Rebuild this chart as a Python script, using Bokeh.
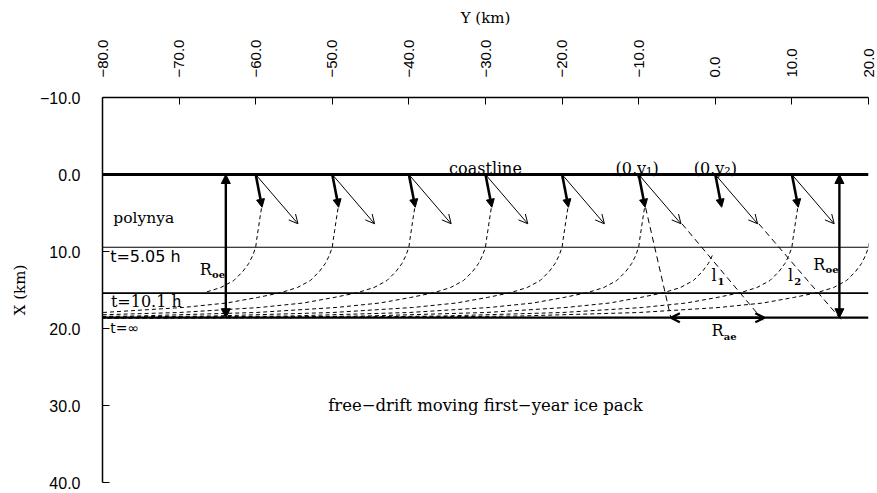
from bokeh.plotting import figure
from bokeh.models import Range1d, Arrow, NormalHead, OpenHead, ColumnDataSource, FixedTicker, Span
from bokeh.embed import file_html
from bokeh.resources import INLINE
from bokeh.core.properties import value

# ---------------- data (km) ----------------
# horizontal axis: Y (km), drawn on top; vertical axis: X (km), increasing downwards
y_ticks = [-80, -70, -60, -50, -40, -30, -20, -10, 0, 10, 20]
y_tick_labels = ["\u221280.0", "\u221270.0", "\u221260.0", "\u221250.0", "\u221240.0",
                 "\u221230.0", "\u221220.0", "\u221210.0", "0.0", "10.0", "20.0"]
x_ticks = [-10, 0, 10, 20, 30, 40]
x_tick_labels = ["\u221210.0", "0.0", "10.0", "20.0", "30.0", "40.0"]

coastline_x = 0.0
time_lines_x = [9.45, 15.4, 18.6]          # t=5.05 h, t=10.1 h, t=inf
time_lines_w = [1.2, 1.6, 2.2]

# points on the coast where the frazil ice starts
arrow_starts = [-60, -50, -40, -30, -20, -10, 0, 10]
ice_drift_dy, ice_drift_dx = 0.83, 4.25    # thick arrows (ice drift)
wind_dy, wind_dx = 5.52, 6.4               # thin arrows (wind)

# trajectory shape: offsets from the start point (km)
traj_dy = [0.75, 0.52, 0.33, 0.13, 0.0, -0.39, -0.91, -1.69, -2.86, -4.56,
           -6.77, -9.77, -13.8, -19.5, -29.9, -45.6, -65.1, -104.0]
traj_dx = [4.4, 5.84, 7.14, 8.44, 9.44, 10.52, 11.56, 12.60, 13.77, 14.68,
           15.36, 15.97, 16.69, 17.27, 17.92, 18.38, 18.57, 18.66]
curve_starts = [-60, -50, -40, -30, -20, -10, 0, 10, 20]
curve_first = [0, 0, 0, 0, 0, 0, 5, 0, 0]
curve_last = [10, 17, 17, 17, 17, 17, 17, 17, 17]

# construction lines
l1_y, l1_x = [-4.35, 6.55], [6.4, 19.3]
l2_y, l2_x = [5.68, 16.75], [6.4, 19.2]
drop_y, drop_x = [-9.1, -5.8], [4.3, 18.6]
roe_y = [-63.9, 16.2]
roe_x0, roe_x1 = 0.0, 18.6
rae_y = [-5.8, 6.4]
rae_x = 18.6

# ---------------- figure ----------------
p = figure(width=877, height=493, x_range=Range1d(-80, 20), y_range=Range1d(40, -10),
           x_axis_location="above", y_axis_location="left",
           output_backend="svg", toolbar_location=None,
           min_border_left=102, min_border_right=9, min_border_top=97, min_border_bottom=11)
p.outline_line_color = None
p.xgrid.visible = False
p.ygrid.visible = False
p.background_fill_color = "white"
p.border_fill_color = "white"

for ax, ticks, labels in ((p.xaxis[0], y_ticks, y_tick_labels), (p.yaxis[0], x_ticks, x_tick_labels)):
    ax.ticker = FixedTicker(ticks=ticks)
    ax.major_label_overrides = {t: l for t, l in zip(ticks, labels)}
    ax.major_tick_in = 7
    ax.major_tick_out = 0
    ax.minor_tick_line_color = None
    ax.axis_line_width = 1.5
    ax.axis_line_color = "black"
    ax.major_tick_line_color = "black"
    ax.major_label_text_font = "Liberation Sans"
    ax.major_label_text_font_size = "16px"
    ax.major_label_text_color = "black"
    ax.axis_label_text_font = "DejaVu Serif"
    ax.axis_label_text_font_size = "15px"
    ax.axis_label_text_font_style = "normal"
    ax.axis_label_text_color = "black"

p.xaxis.axis_label = "Y (km)"
p.xaxis.major_label_orientation = "vertical"
p.xaxis.major_label_text_font_size = "15px"
p.xaxis.major_label_standoff = 20
p.xaxis.axis_label_standoff = 10
p.yaxis.axis_label = "X (km)"
p.yaxis.major_label_standoff = 22
p.yaxis.axis_label_standoff = 8

# coastline and time lines
p.add_layout(Span(location=coastline_x, dimension="width", line_color="black", line_width=3.2))
for xl, w in zip(time_lines_x, time_lines_w):
    p.add_layout(Span(location=xl, dimension="width", line_color="black", line_width=w))

# trajectories
xs, ys = [], []
for s, a, b in zip(curve_starts, curve_first, curve_last):
    xs.append([s + d for d in traj_dy[a:b + 1]])
    ys.append(traj_dx[a:b + 1])
p.multi_line(xs, ys, line_color="black", line_width=1, line_dash="4 3")

# construction dashed lines
p.multi_line([l1_y, l2_y, drop_y], [l1_x, l2_x, drop_x], line_color="black",
             line_width=1, line_dash="6 4")

# thin (wind) arrows
wind_src = ColumnDataSource(dict(
    x0=arrow_starts, y0=[coastline_x] * len(arrow_starts),
    x1=[s + wind_dy for s in arrow_starts], y1=[coastline_x + wind_dx] * len(arrow_starts)))
p.add_layout(Arrow(end=OpenHead(size=9, line_width=1, line_color="black"),
                   source=wind_src, x_start="x0", y_start="y0", x_end="x1", y_end="y1",
                   line_width=1, line_color="black"))

# thick (ice drift) arrows
ice_src = ColumnDataSource(dict(
    x0=arrow_starts, y0=[coastline_x] * len(arrow_starts),
    x1=[s + ice_drift_dy for s in arrow_starts], y1=[coastline_x + ice_drift_dx] * len(arrow_starts)))
p.add_layout(Arrow(end=NormalHead(size=8, fill_color="black", line_color="black", line_width=1),
                   source=ice_src, x_start="x0", y_start="y0", x_end="x1", y_end="y1",
                   line_width=2.6, line_color="black"))

# R_oe double arrows
roe_src = ColumnDataSource(dict(x0=roe_y, y0=[roe_x0] * 2, x1=roe_y, y1=[roe_x1] * 2))
p.add_layout(Arrow(start=NormalHead(size=9, fill_color="black", line_color="black"),
                   end=NormalHead(size=9, fill_color="black", line_color="black"),
                   source=roe_src, x_start="x0", y_start="y0", x_end="x1", y_end="y1",
                   line_width=2.4, line_color="black"))

# R_ae double arrow
rae_src = ColumnDataSource(dict(x0=[rae_y[0]], y0=[rae_x], x1=[rae_y[1]], y1=[rae_x]))
p.add_layout(Arrow(start=OpenHead(size=9, line_width=2.4, line_color="black"),
                   end=OpenHead(size=9, line_width=2.4, line_color="black"),
                   source=rae_src, x_start="x0", y_start="y0", x_end="x1", y_end="y1",
                   line_width=2.6, line_color="black"))

# ---------------- texts ----------------
serif = value("DejaVu Serif")
lab_text = ["coastline", "(0,y\u2081)", "(0,y\u2082)", "polynya", "t=10.1 h",
            "free\u2212drift moving first\u2212year ice pack"]
lab_y = [-30.0, -10.2, 0.0, -78.6, -78.9, -30.0]
lab_x = [-0.8, -0.8, -0.8, 5.6, 16.5, 30.0]
lab_align = ["center", "center", "center", "left", "left", "center"]
lab_base = ["alphabetic", "alphabetic", "alphabetic", "alphabetic", "middle", "middle"]
lab_size = ["16px", "16px", "16px", "15.5px", "16px", "16.5px"]
p.text(x=lab_y, y=lab_x, text=lab_text, text_font=serif, text_font_size=lab_size,
       text_align=lab_align, text_baseline=lab_base, text_color="black")

sans_text = ["t=5.05 h", "t=\u221e"]
sans_y = [-79.0, -79.0]
sans_x = [10.6, 19.9]
sans_size = ["16px", "14px"]
p.text(x=sans_y, y=sans_x, text=sans_text, text_font=value("DejaVu Sans"),
       text_font_size=sans_size, text_align="left", text_baseline="middle", text_color="black")

r_text = ["R", "R", "R", "l", "l"]
r_y = [-67.3, 12.8, -0.5, -0.5, 9.5]
r_x = [12.3, 11.7, 20.3, 13.1, 13.1]
p.text(x=r_y, y=r_x, text=r_text, text_font=serif, text_font_size="16px",
       text_align="left", text_baseline="middle", text_color="black")
sub_text = ["oe", "oe", "ae", "1", "2"]
sub_y = [-65.7, 14.4, 1.1, 0.3, 10.3]
sub_x = [13.0, 12.4, 21.0, 13.9, 13.9]
p.text(x=sub_y, y=sub_x, text=sub_text, text_font=serif, text_font_size="10px",
       text_font_style="bold", text_align="left", text_baseline="middle", text_color="black")

open("out.html", "w").write(file_html(p, INLINE))
